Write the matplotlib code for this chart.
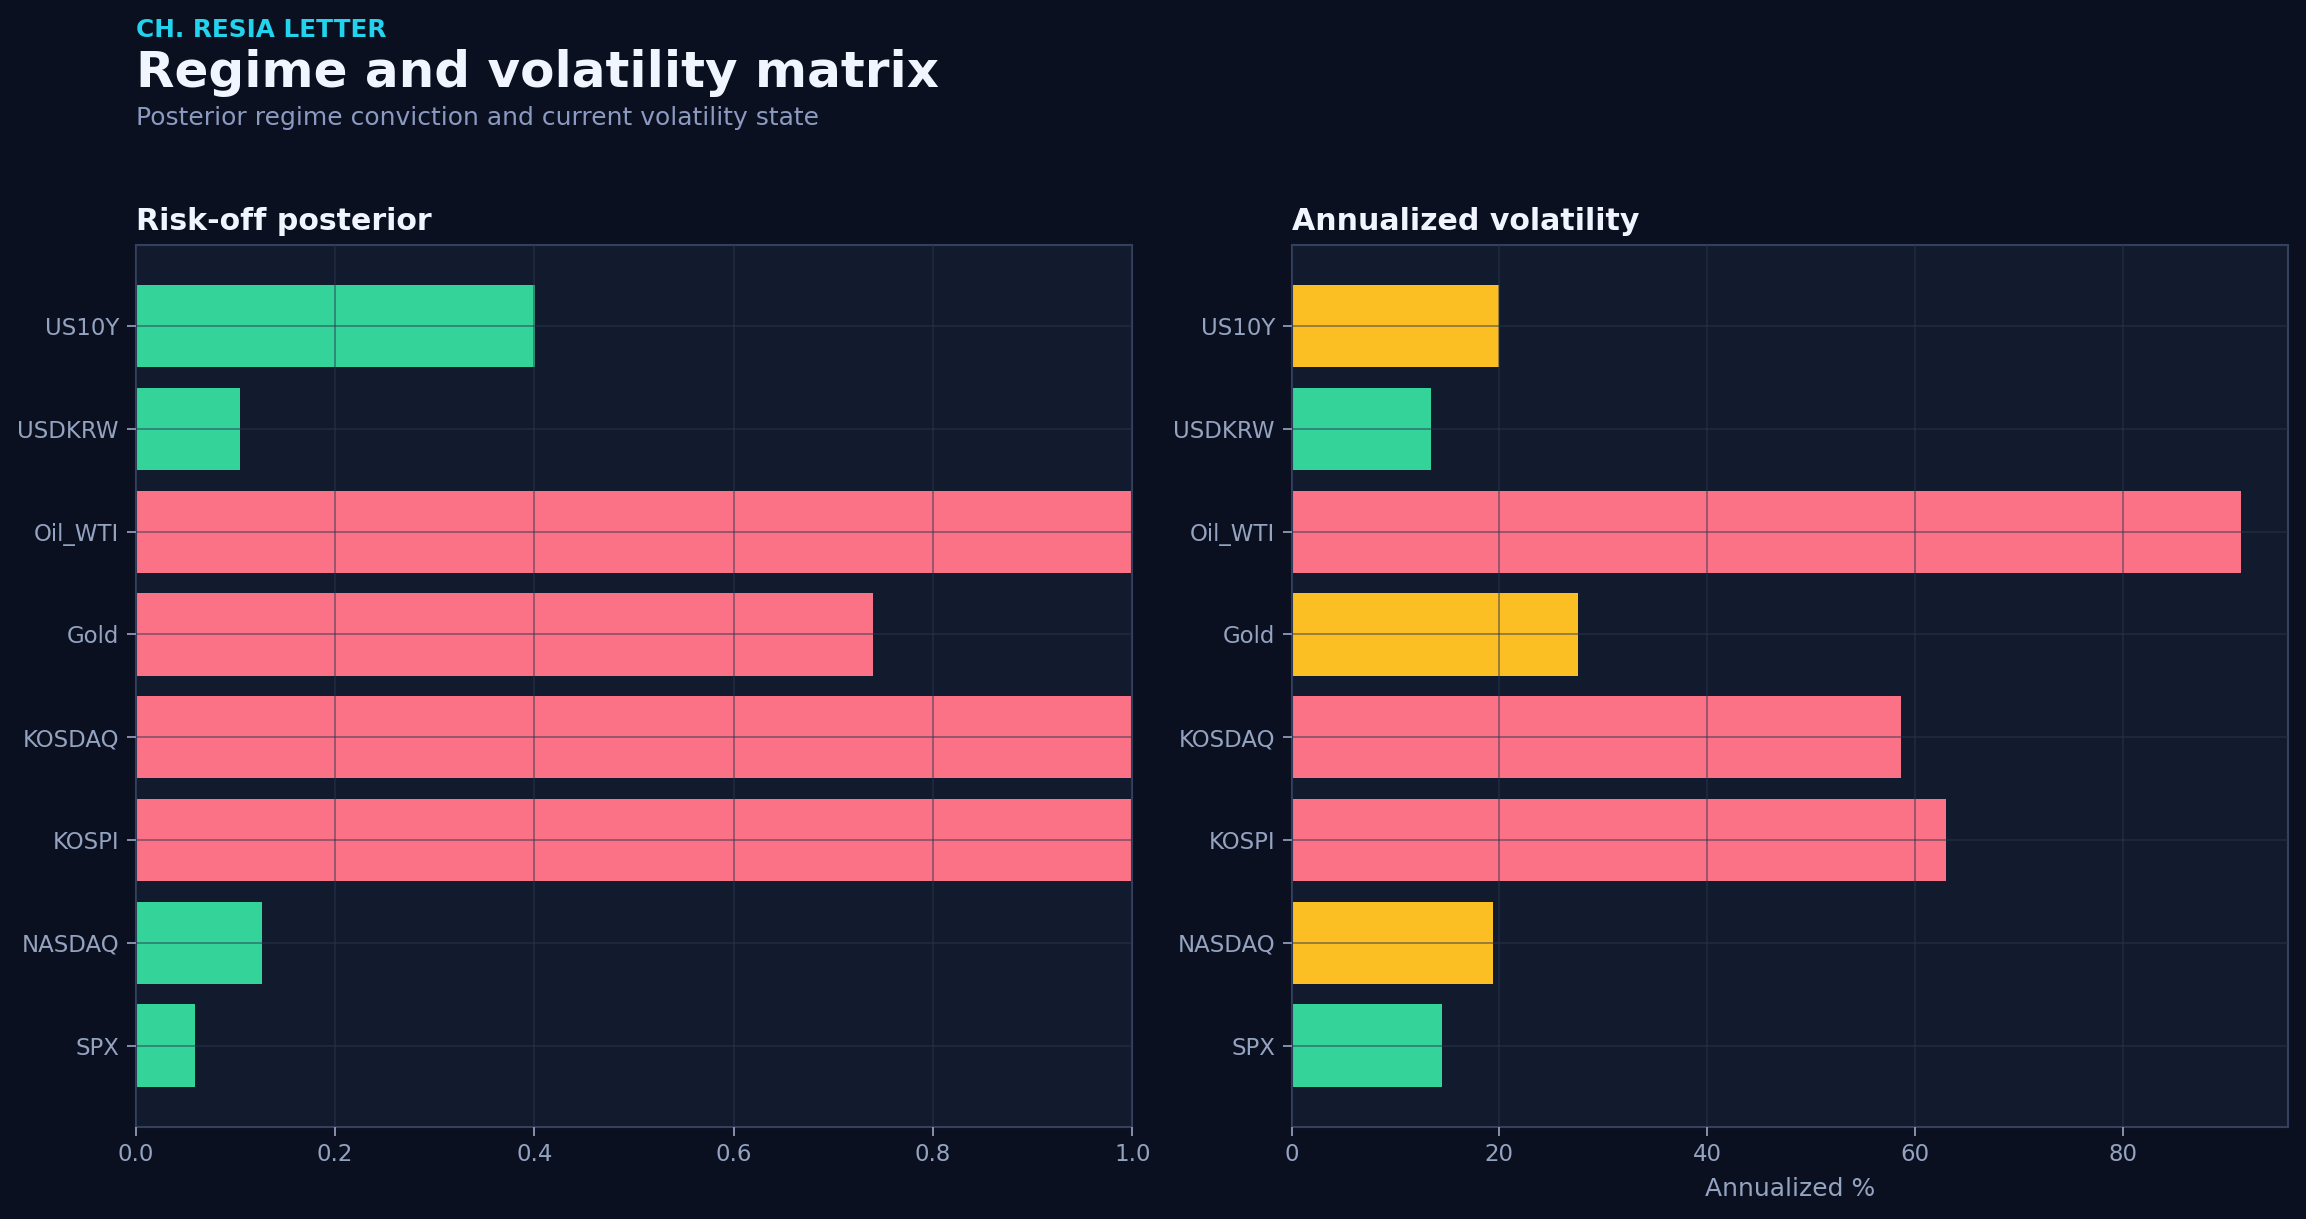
import matplotlib
matplotlib.use("Agg")
import matplotlib.pyplot as plt

# assets listed bottom to top
assets = ["SPX", "NASDAQ", "KOSPI", "KOSDAQ", "Gold", "Oil_WTI", "USDKRW", "US10Y"]
risk_off = [0.06, 0.127, 1.0, 1.0, 0.74, 1.0, 0.105, 0.401]
regime = ["calm", "calm", "stress", "stress", "stress", "stress", "calm", "calm"]
vol = [14.5, 19.4, 63.0, 58.7, 27.6, 91.4, 13.4, 20.0]
vol_state = ["low", "mid", "high", "high", "mid", "high", "low", "mid"]

GREEN = "#34d399"
RED = "#fb7185"
YELLOW = "#fbbf24"
regime_colors = {"calm": GREEN, "stress": RED}
vol_colors = {"low": GREEN, "mid": YELLOW, "high": RED}

BG = "#0b1020"
PANEL = "#121a2e"
SPINE = "#33415f"
GRID = "#2a3550"
TICK = "#94a3c0"

plt.rcParams["font.family"] = ["DejaVu Sans"]

fig = plt.figure(figsize=(2306 / 150, 1219 / 150), dpi=150, facecolor=BG)
ax1 = fig.add_axes([0.0588, 0.0757, 0.4323, 0.7233])
ax2 = fig.add_axes([0.5601, 0.0757, 0.4323, 0.7233])

ax1.barh(assets, risk_off, height=0.8, color=[regime_colors[r] for r in regime], zorder=1)
ax2.barh(assets, vol, height=0.8, color=[vol_colors[v] for v in vol_state], zorder=1)
ax1.set_xlim(0, 1.0)

for ax, title in [(ax1, "Risk-off posterior"), (ax2, "Annualized volatility")]:
    ax.set_facecolor(PANEL)
    ax.set_axisbelow(False)
    ax.grid(True, color=GRID, alpha=0.55, linewidth=0.8, zorder=2)
    for s in ax.spines.values():
        s.set_color(SPINE)
        s.set_linewidth(1.0)
    ax.tick_params(colors=TICK, labelsize=11, length=4.5, width=0.9)
    ax.tick_params(axis="both", color="#8b95ad")
    ax.set_title(title, loc="left", color="#f1f5ff", fontsize=14.4,
                 fontweight="bold", pad=7)

ax2.set_xlabel("Annualized %", color=TICK, fontsize=12, labelpad=5)

fig.text(0.0588, 0.970, "CH. RESIA LETTER", color="#22d3ee", fontsize=11.9,
         fontweight="bold", va="baseline")
fig.text(0.0588, 0.9284, "Regime and volatility matrix", color="#f1f5ff",
         fontsize=24, fontweight="bold", va="baseline")
fig.text(0.0588, 0.8975, "Posterior regime conviction and current volatility state",
         color="#8b9ac0", fontsize=12, va="baseline")

fig.savefig("out.png", dpi=150, facecolor=BG)
